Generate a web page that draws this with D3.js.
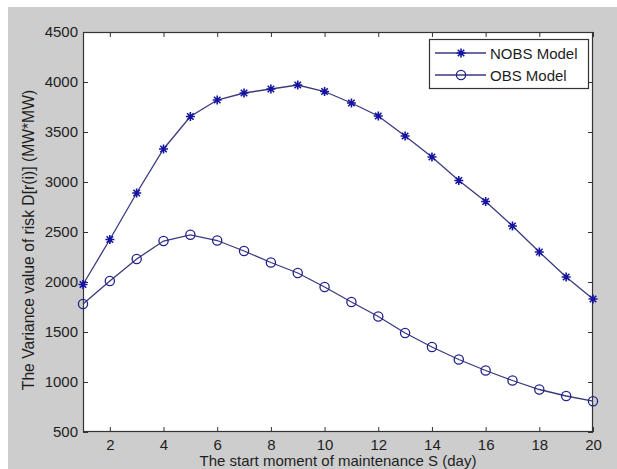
<!DOCTYPE html>
<html>
<head>
<meta charset="utf-8">
<script src="https://cdn.jsdelivr.net/npm/d3@7"></script>
<style>
  html, body { margin: 0; padding: 0; background: #ffffff; }
  svg { display: block; }
  text { font-family: "Liberation Sans", Arial, sans-serif; fill: #1e1e1e; }
</style>
</head>
<body>
<svg id="chart" width="617" height="469"></svg>
<script>
// Start day S of the maintenance window
const days = [1, 2, 3, 4, 5, 6, 7, 8, 9, 10, 11, 12, 13, 14, 15, 16, 17, 18, 19, 20];
// Variance of risk D[r(i)] (MW*MW) without the OBS scheme
const nobs = [1975, 2425, 2890, 3330, 3655, 3820, 3890, 3930, 3970, 3905, 3790, 3660, 3460, 3250, 3015, 2805, 2560, 2300, 2050, 1830];
// Variance of risk D[r(i)] (MW*MW) with the OBS scheme
const obs = [1780, 2010, 2230, 2410, 2472, 2415, 2310, 2195, 2090, 1950, 1800, 1655, 1490, 1350, 1225, 1115, 1015, 925, 860, 808];

const xTicks = [2, 4, 6, 8, 10, 12, 14, 16, 18, 20];
const yTicks = [500, 1000, 1500, 2000, 2500, 3000, 3500, 4000, 4500];
const seriesNames = ["NOBS Model", "OBS Model"];

const W = 617, H = 469;
const plot = { left: 83, top: 32, right: 593, bottom: 432 };
const lineColor = "#3a3a7e";
const markColor = "#1414a0";
const fontSize = 15;
const textColor = "#1e1e1e";

const svg = d3.select("#chart");

// figure background with a thin white margin on top and left
svg.append("rect").attr("x", 0).attr("y", 0).attr("width", W).attr("height", H).attr("fill", "#ffffff");
svg.append("rect").attr("x", 8).attr("y", 7).attr("width", W - 8).attr("height", H - 7).attr("fill", "#cdcdcd");

const x = d3.scaleLinear().domain([1, 20]).range([plot.left, plot.right]);
const y = d3.scaleLinear().domain([500, 4500]).range([plot.bottom, plot.top]);

// axes area
svg.append("rect")
  .attr("x", plot.left).attr("y", plot.top)
  .attr("width", plot.right - plot.left).attr("height", plot.bottom - plot.top)
  .attr("fill", "#ffffff");

const tickLen = 5;
function styleAxis(g) {
  g.select(".domain").remove();
  g.selectAll(".tick line").attr("stroke", "#333333").attr("stroke-width", 1);
  g.selectAll(".tick text")
    .style("font-size", fontSize + "px")
    .style("font-family", "'Liberation Sans', Arial, sans-serif")
    .attr("fill", textColor);
}

// bottom axis (ticks pointing inward)
svg.append("g")
  .attr("transform", `translate(0,${plot.bottom})`)
  .call(d3.axisBottom(x).tickValues(xTicks).tickSizeInner(-tickLen).tickSizeOuter(0).tickPadding(7))
  .call(styleAxis);
// top axis: ticks only
svg.append("g")
  .attr("transform", `translate(0,${plot.top})`)
  .call(d3.axisTop(x).tickValues(xTicks).tickSizeInner(-tickLen).tickSizeOuter(0).tickFormat(""))
  .call(styleAxis);
// left axis
svg.append("g")
  .attr("transform", `translate(${plot.left},0)`)
  .call(d3.axisLeft(y).tickValues(yTicks).tickSizeInner(-tickLen).tickSizeOuter(0).tickPadding(5).tickFormat(d3.format("d")))
  .call(styleAxis);
// right axis: ticks only
svg.append("g")
  .attr("transform", `translate(${plot.right},0)`)
  .call(d3.axisRight(y).tickValues(yTicks).tickSizeInner(-tickLen).tickSizeOuter(0).tickFormat(""))
  .call(styleAxis);

// box around the axes
svg.append("rect")
  .attr("x", plot.left + 0.5).attr("y", plot.top + 0.5)
  .attr("width", plot.right - plot.left - 1).attr("height", plot.bottom - plot.top - 1)
  .attr("fill", "none").attr("stroke", "#333333").attr("stroke-width", 1.2);

// axis titles
svg.append("text")
  .attr("x", (plot.left + plot.right) / 2).attr("y", 465.5)
  .attr("text-anchor", "middle")
  .style("font-size", fontSize + "px")
  .text("The start moment of maintenance S (day)");
svg.append("text")
  .attr("transform", `translate(34,240) rotate(-90)`)
  .attr("text-anchor", "middle")
  .style("font-size", "15.7px")
  .text("The Variance value of risk D[r(i)] (MW*MW)");

// markers
function drawStar(g, cx, cy, r) {
  const d = r * 0.72;
  g.append("path")
    .attr("d", `M${cx - r},${cy}L${cx + r},${cy}M${cx},${cy - r}L${cx},${cy + r}` +
               `M${cx - d},${cy - d}L${cx + d},${cy + d}M${cx - d},${cy + d}L${cx + d},${cy - d}`)
    .attr("stroke", markColor).attr("stroke-width", 1.6).attr("fill", "none");
}
function drawCircle(g, cx, cy, r) {
  g.append("circle").attr("cx", cx).attr("cy", cy).attr("r", r)
    .attr("fill", "none").attr("stroke", "#22228e").attr("stroke-width", 1.3);
}

const line = d3.line().x((d, i) => x(days[i])).y(d => y(d));

const series = [
  { name: seriesNames[0], values: nobs, marker: drawStar, size: 4.5 },
  { name: seriesNames[1], values: obs, marker: drawCircle, size: 4.6 }
];

series.forEach(s => {
  svg.append("path")
    .datum(s.values)
    .attr("d", line)
    .attr("fill", "none")
    .attr("stroke", lineColor)
    .attr("stroke-width", 1.3);
  const g = svg.append("g");
  s.values.forEach((v, i) => s.marker(g, x(days[i]), y(v), s.size));
});

// legend
const lg = svg.append("g");
lg.append("rect")
  .attr("x", 429.5).attr("y", 39.5).attr("width", 159).attr("height", 49)
  .attr("fill", "#ffffff").attr("stroke", "#333333").attr("stroke-width", 1.2);
series.forEach((s, i) => {
  const ly = 53 + i * 22;
  lg.append("line").attr("x1", 435).attr("x2", 486).attr("y1", ly).attr("y2", ly)
    .attr("stroke", lineColor).attr("stroke-width", 1.3);
  s.marker(lg, 461, ly, s.size);
  lg.append("text").attr("x", 490).attr("y", ly + 5.5)
    .style("font-size", fontSize + "px")
    .text(s.name);
});
</script>
</body>
</html>
